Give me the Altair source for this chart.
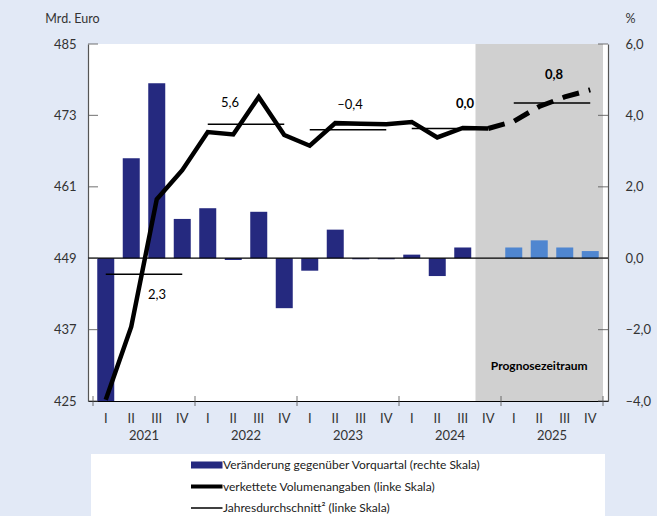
import json

import altair as alt
import pandas as pd

# ---------------------------------------------------------------- data
quarter_names = ["I", "II", "III", "IV"] * 5
year_names = ["2021", "2022", "2023", "2024", "2025"]

# change against previous quarter, % (right scale)
qoq_change = [-4.0, 2.8, 4.9, 1.1, 1.4, -0.05, 1.3, -1.4,
              -0.35, 0.8, -0.03, -0.03, 0.1, -0.5, 0.3, 0.0,
              0.3, 0.5, 0.3, 0.2]

# chained volumes, bn euro (left scale)
volume = [425.2, 437.5, 458.9, 463.8, 470.2, 469.8, 476.1, 469.7,
          467.9, 471.7, 471.6, 471.5, 471.9, 469.3, 470.9, 470.8,
          472.0, 474.5, 476.1, 477.3]

# annual averages (left scale) and annual growth rates
annual_avg = [446.3, 471.5, 470.6, 470.8, 475.1]
annual_growth = ["2,3", "5,6", "–0,4", "0,0", "0,8"]
growth_bold = [False, False, False, True, True]

forecast_start = 15  # 2024 IV

series_names = [
    "Veränderung gegenüber Vorquartal (rechte Skala)",
    "verkettete Volumenangaben (linke Skala)",
    "Jahresdurchschnitt² (linke Skala)",
]

left_ticks = [425, 437, 449, 461, 473, 485]
right_ticks = [-4, -2, 0, 2, 4, 6]
n_q = len(quarter_names)
year_bounds = [i * 4 - 0.5 for i in range(len(year_names) + 1)]

# ---------------------------------------------------------------- style
FONT = "Lato"
NAVY = "#25297f"
LIGHT = "#4f86d0"
GREY_BG = "#d0d0d0"
PAGE_BG = "#e2e9f6"
AXIS_GREY = "#555555"
TEXT = "#333333"

df_q = pd.DataFrame({
    "idx": list(range(n_q)),
    "quarter": quarter_names,
    "change": qoq_change,
    "volume": volume,
})
df_q["forecast"] = df_q["idx"] >= forecast_start

df_avg = pd.DataFrame({
    "start": [4 * i for i in range(len(annual_avg))],
    "end": [4 * i + 3 for i in range(len(annual_avg))],
    "mid": [4 * i + 1.5 for i in range(len(annual_avg))],
    "avg": annual_avg,
    "label": annual_growth,
    "year": year_names,
})

X = alt.Scale(domain=[-0.5, n_q - 0.5], nice=False, zero=False)
YL = alt.Scale(domain=[425, 485], nice=False, zero=False)
YR = alt.Scale(domain=[-4, 6], nice=False, zero=False)

bottom_axis = alt.Axis(
    orient="bottom", values=year_bounds, labels=False, ticks=False,
    domain=True, domainColor="black", domainWidth=1.2, grid=False, title=None,
)
left_axis = alt.Axis(
    orient="left", values=left_ticks, format="d", ticks=False,
    domainColor=AXIS_GREY, domainWidth=1.2, labelPadding=12,
    labelFont=FONT, labelFontSize=13, labelColor=TEXT, grid=False,
    title="Mrd. Euro", titleAngle=0, titleX=-16, titleY=-26,
    titleAlign="center", titleBaseline="middle", titleFont=FONT,
    titleFontSize=12.5, titleFontWeight="normal", titleColor=TEXT,
)
right_axis = alt.Axis(
    orient="right", values=right_ticks, ticks=False,
    labelExpr="replace(replace(replace(format(datum.value, '.1f'), '.', ','), '−', '–'), '-', '–')",
    domainColor=AXIS_GREY, domainWidth=1.2, labelPadding=17, labelAlign="left",
    labelFont=FONT, labelFontSize=13, labelColor=TEXT, grid=False,
    title="%", titleAngle=0, titleX=22, titleY=-26,
    titleAlign="center", titleBaseline="middle", titleFont=FONT,
    titleFontSize=12.5, titleFontWeight="normal", titleColor=TEXT,
)

# ---------------------------------------------------------------- right-scale group
forecast_zone = alt.Chart(
    pd.DataFrame({"start": [forecast_start - 0.5], "end": [n_q - 0.5]})
).mark_rect(color=GREY_BG).encode(
    x=alt.X("start:Q", scale=X, axis=bottom_axis),
    x2="end:Q",
    y=alt.Y(datum=-4, scale=YR, axis=right_axis),
    y2=alt.Y2(datum=6),
)

bars = alt.Chart(df_q).mark_bar(size=17).encode(
    x=alt.X("idx:Q", scale=X),
    y=alt.Y("change:Q", scale=YR),
    color=alt.condition("datum.forecast", alt.value(LIGHT), alt.value(NAVY)),
)

zero_line = alt.Chart(pd.DataFrame({"v": [0]})).mark_rule(
    color="black", strokeWidth=1.2
).encode(y=alt.Y("v:Q", scale=YR))

right_tick_marks = alt.Chart(pd.DataFrame({"v": right_ticks})).mark_tick(
    orient="horizontal", size=10, thickness=1.2, color=AXIS_GREY
).encode(
    x=alt.X(datum=n_q - 0.5, scale=X),
    y=alt.Y("v:Q", scale=YR),
)

right_group = alt.layer(forecast_zone, bars, zero_line, right_tick_marks)

# ---------------------------------------------------------------- left-scale group
avg_rules = alt.Chart(df_avg).mark_rule(color="black", strokeWidth=1.5).encode(
    x=alt.X("start:Q", scale=X, axis=None),
    x2="end:Q",
    y=alt.Y("avg:Q", scale=YL, axis=left_axis),
)

line_actual = alt.Chart(df_q[df_q["idx"] <= forecast_start]).mark_line(
    color="black", strokeWidth=4.5
).encode(
    x=alt.X("idx:Q", scale=X),
    y=alt.Y("volume:Q", scale=YL),
)

line_forecast = alt.Chart(df_q[df_q["idx"] >= forecast_start]).mark_line(
    color="black", strokeWidth=5, strokeDash=[17, 10]
).encode(
    x=alt.X("idx:Q", scale=X),
    y=alt.Y("volume:Q", scale=YL),
)

# growth labels next to each annual average line
label_offsets = [(13, 21), (-16, -21), (2, -25), (15, -24), (2, -28)]
growth_labels = []
for i, (dx, dy) in enumerate(label_offsets):
    growth_labels.append(
        alt.Chart(df_avg.iloc[[i]]).mark_text(
            font=FONT, fontSize=13, color="black",
            fontWeight="bold" if growth_bold[i] else "normal",
            dx=dx, dy=dy, baseline="middle",
        ).encode(
            x=alt.X("mid:Q", scale=X),
            y=alt.Y("avg:Q", scale=YL),
            text="label:N",
        )
    )

forecast_label = alt.Chart(pd.DataFrame({"t": ["Prognosezeitraum"]})).mark_text(
    font=FONT, fontSize=12, fontWeight="bold", color="black",
    baseline="middle", dy=-35,
).encode(
    x=alt.X(datum=(forecast_start - 0.5 + n_q - 0.5) / 2, scale=X),
    y=alt.Y(datum=425, scale=YL),
    text="t:N",
)

# quarter and year labels under the time axis
quarter_labels = alt.Chart(df_q).mark_text(
    font=FONT, fontSize=13, color=TEXT, baseline="middle", dy=18,
).encode(
    x=alt.X("idx:Q", scale=X),
    y=alt.Y(datum=425, scale=YL),
    text="quarter:N",
)
year_labels = alt.Chart(df_avg).mark_text(
    font=FONT, fontSize=13, color=TEXT, baseline="middle", dy=35,
).encode(
    x=alt.X("mid:Q", scale=X),
    y=alt.Y(datum=425, scale=YL),
    text="year:N",
)

left_tick_marks = alt.Chart(pd.DataFrame({"v": left_ticks})).mark_tick(
    orient="horizontal", size=10, thickness=1.2, color=AXIS_GREY
).encode(
    x=alt.X(datum=-0.5, scale=X),
    y=alt.Y("v:Q", scale=YL),
)

year_tick_marks = alt.Chart(pd.DataFrame({"b": year_bounds})).mark_tick(
    orient="vertical", size=10, thickness=1.2, color=AXIS_GREY
).encode(
    x=alt.X("b:Q", scale=X),
    y=alt.Y(datum=425, scale=YL),
)

# white panel behind the legend
legend_panel = alt.Chart(pd.DataFrame({"v": [0]})).mark_rect(color="white").encode(
    x=alt.value(3), x2=alt.value(517), y=alt.value(410), y2=alt.value(480)
)

legend_def = alt.Legend(
    title=None, orient="none", legendX=103, legendY=414,
    symbolType="M-4.6,0H4.6", symbolSize=100, padding=0,
    labelFont=FONT, labelFontSize=12, labelColor="#222222",
    labelOffset=15, rowPadding=7.5, clipHeight=14, labelLimit=500,
)
legend_layer = alt.Chart(pd.DataFrame({"series": series_names})).mark_line(
    strokeCap="butt"
).encode(
    x=alt.value(0),
    y=alt.value(0),
    color=alt.Color(
        "series:N",
        scale=alt.Scale(domain=series_names, range=[NAVY, "black", "black"]),
        legend=legend_def,
    ),
    strokeWidth=alt.StrokeWidth(
        "series:N",
        scale=alt.Scale(type="ordinal", domain=series_names, range=[7, 4, 1.3]),
        legend=legend_def,
    ),
)

left_group = alt.layer(
    avg_rules, line_actual, line_forecast, *growth_labels, forecast_label,
    quarter_labels, year_labels, left_tick_marks, year_tick_marks,
    legend_panel, legend_layer,
)

chart = (
    alt.layer(right_group, left_group)
    .resolve_scale(y="independent")
    .resolve_axis(x="independent")
    .properties(
        width=520, height=357, autosize="none",
        padding={"left": 88, "top": 44, "right": 49, "bottom": 115},
        background=PAGE_BG,
    )
    .configure_view(stroke=None, fill="white")
)

chart.save("out.html", embed_options={"renderer": "svg", "actions": False})
